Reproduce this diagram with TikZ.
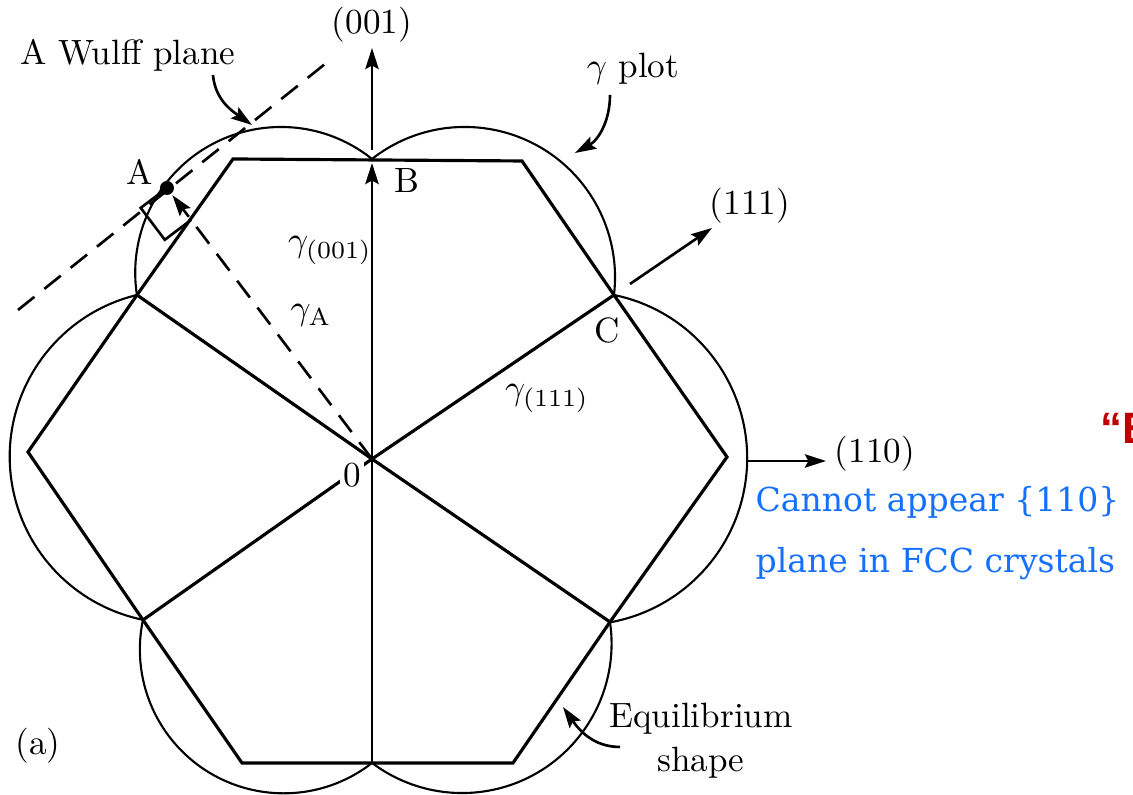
\documentclass[tikz,border=0pt]{standalone}
\usepackage{fontspec}
\usetikzlibrary{arrows.meta}
\newfontfamily\notefont{DejaVu Serif}
\newfontfamily\markfont{Liberation Sans}
\definecolor{noteblue}{RGB}{22,112,255}
\definecolor{markred}{RGB}{192,0,0}

\begin{document}
\begin{tikzpicture}[scale=1.0,>={Stealth[length=6pt,width=3.8pt,inset=1pt]},
    facet/.style={line width=0.9pt},
    lobe/.style={line width=0.6pt},
    vec/.style={line width=0.75pt,->},
    plane/.style={line width=0.75pt,dash pattern=on 6pt off 3.6pt},
    lab/.style={font=\fontsize{10}{12}\selectfont,inner sep=0pt,anchor=base},
    note/.style={font=\notefont\fontsize{9.4}{12}\selectfont,text=noteblue,inner sep=0pt,anchor=base west}]
  \useasboundingbox (-3.72,-3.36) rectangle (7.61,4.59);
  % corners of the shape, O is the origin
  \foreach \n/\x/\y in {O/0/0,B/0/3.0,TL/-1.39/3.0,TR/1.50/2.98,UL/-2.35/1.64,C/2.42/1.64,
      L/-3.44/0.07,R/3.55/0.02,LL/-2.29/-1.61,LR/2.38/-1.63,BL/-1.30/-3.04,BR/1.41/-3.04,
      Bot/0/-3.04,A/-2.05/2.71,W1/-3.54/1.49,W2/-0.42/3.99}
    \coordinate (\n) at (\x,\y);
  % ends of the arrows
  \foreach \n/\x/\y in {t001/0/3.09,h001/0/4.11,t111/2.58/1.75,h111/3.40/2.31,
      t110/3.75/-0.02,h110/4.54/-0.02,wt/-1.59/3.84,wh/-1.20/3.34,
      gt/2.38/3.64,gh/2.03/3.06,et/2.48/-2.88,eh/1.91/-2.48}
    \coordinate (\n) at (\x,\y);

  % equilibrium shape
  \draw[facet] (TL)--(TR)--(C)--(R)--(LR)--(BR)--(BL)--(LL)--(L)--(UL)--cycle;
  \foreach \v in {UL,C,LR,LL}
    \draw[facet] (O)--(\v);

  % gamma plot
  \foreach \s/\a/\b/\r in {B/51.3/188.8/1.457,B/128.1/-6.8/1.503,C/78.4/-79.8/1.667,
      LR/8.3/-127.1/1.495,Bot/-52.1/-191.8/1.438,UL/103.6/258.5/1.664}
    \draw[lobe] (\s) arc[start angle=\a,end angle=\b,radius=\r];

  % Wulff plane through A
  \draw[plane] (W1)--(W2);
  \draw[plane,->,shorten >=0.09cm] (O)--(A);
  \draw[line width=0.75pt] (A)--++(-0.263,-0.199)--++(0.241,-0.319)--++(0.263,0.199);
  \node[circle,fill,inner sep=0pt,minimum size=0.14cm] (dotA) at (A) {};

  % directions
  \draw[vec,shorten >=0.04cm] (Bot)--(B);
  \draw[vec] (t001)--(h001);
  \draw[vec] (t111)--(h111);
  \draw[vec] (t110)--(h110);
  \draw[vec] (wt) to[out=-85,in=145] (wh);
  \draw[vec] (gt) to[out=-90,in=29] (gh);
  \draw[vec] (et) to[out=180,in=-55] (eh);

  % labels
  \node[lab] (l001) at (0,4.25) {(001)};
  \node[lab] (l111) at (3.78,2.44) {(111)};
  \node[lab] (l110) at (5.03,-0.04) {(110)};
  \node[lab] (wulff) at (-2.44,3.94) {A Wulff plane};
  \node[lab] (gplot) at (2.61,3.81) {$\gamma$ plot};
  \node[lab] (lA) at (-2.32,2.74) {A};
  \node[lab] (lB) at (0.35,2.66) {B};
  \node[lab] (lC) at (2.35,1.16) {C};
  \node[lab] (g001) at (-0.42,2.07) {$\gamma_{(001)}$};
  \node[lab] (gA) at (-0.61,1.39) {$\gamma_{\mathrm{A}}$};
  \node[lab] (g111) at (1.75,0.59) {$\gamma_{(111)}$};
  \node[lab,fill=white,inner sep=1pt] (lO) at (-0.20,-0.28) {0};
  \node[lab] (la) at (-3.34,-2.96) {(a)};
  \node[lab] (eq1) at (3.29,-2.69) {Equilibrium};
  \node[lab] (eq2) at (3.29,-3.13) {shape};

  % remark
  \node[note] (note1) at (3.83,-0.53) {Cannot appear \{110\}};
  \node[note] (note2) at (3.83,-1.14) {plane in FCC crystals};
  \node[anchor=base west,inner sep=0pt,text=markred,font=\markfont\bfseries\fontsize{12.5}{14}\selectfont] (cut) at (7.28,0.15) {“E};
\end{tikzpicture}
\end{document}
